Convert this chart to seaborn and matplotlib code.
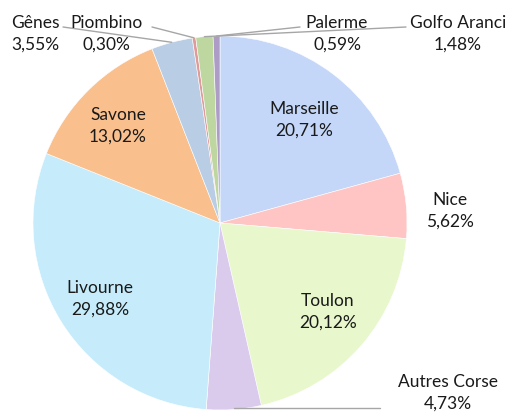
import numpy as np
import matplotlib
matplotlib.use("Agg")
import matplotlib.pyplot as plt
import seaborn as sns

# data (clockwise from 12 o'clock)
ports = ["Marseille", "Nice", "Toulon", "Autres Corse", "Livourne",
         "Savone", "Gênes", "Piombino", "Golfo Aranci", "Palerme"]
shares = [20.71, 5.62, 20.12, 4.73, 29.88, 13.02, 3.55, 0.30, 1.48, 0.59]
colors = ["#c4d7f8", "#ffc4c4", "#e8f7cc", "#dacbec", "#c6ecfb",
          "#f9c08e", "#b9cde5", "#e09a9a", "#bed6a0", "#ac9cc6"]

# label block centres in pixel coords (x, y from top)
label_pos = [(304, 120), (450, 211), (328, 312), (448, 393), (100, 299),
             (118, 126), (35, 34), (106, 34), (458, 34), (337, 34)]
# where each leader line meets its label (None = label inside slice)
leader_end = [None, None, None, (380, 408), None,
              None, (63, 27), (152, 27), (406, 27), (300, 27)]

W, H = 511, 412
cx, cy, r = 220, 223, 187

sns.set_style("white")
plt.rcParams["font.family"] = ["Lato", "DejaVu Sans"]

fig = plt.figure(figsize=(W / 100, H / 100), dpi=100)
ax = fig.add_axes([0, 0, 1, 1])

ax.pie(shares, colors=colors, startangle=90, counterclock=False,
       center=(cx, H - cy), radius=r,
       wedgeprops=dict(edgecolor="white", linewidth=0.4))
ax.set_xlim(0, W)
ax.set_ylim(0, H)
ax.set_aspect("equal")
ax.axis("off")

cum = np.cumsum([0] + shares[:-1])
for name, v, c0, (px, py), end in zip(ports, shares, cum, label_pos, leader_end):
    txt = f"{name}\n{v:.2f}%".replace(".", ",")
    ax.text(px, H - py, txt, ha="center", va="center", fontsize=12.5,
            linespacing=1.4, color="#1a1a1a")
    if end is not None:
        theta = np.deg2rad(90 - 360 * (c0 + v / 2) / 100)
        ax_x = cx + r * np.cos(theta)
        ax_y = (H - cy) + r * np.sin(theta)
        ex, ey = end
        if name == "Autres Corse":
            ax.plot([ax_x, ex], [H - ey, H - ey], color="#a6a6a6", lw=1)
        else:
            ax.plot([ax_x, ex], [ax_y, H - ey], color="#a6a6a6", lw=1)

fig.savefig("out.png", dpi=100)
